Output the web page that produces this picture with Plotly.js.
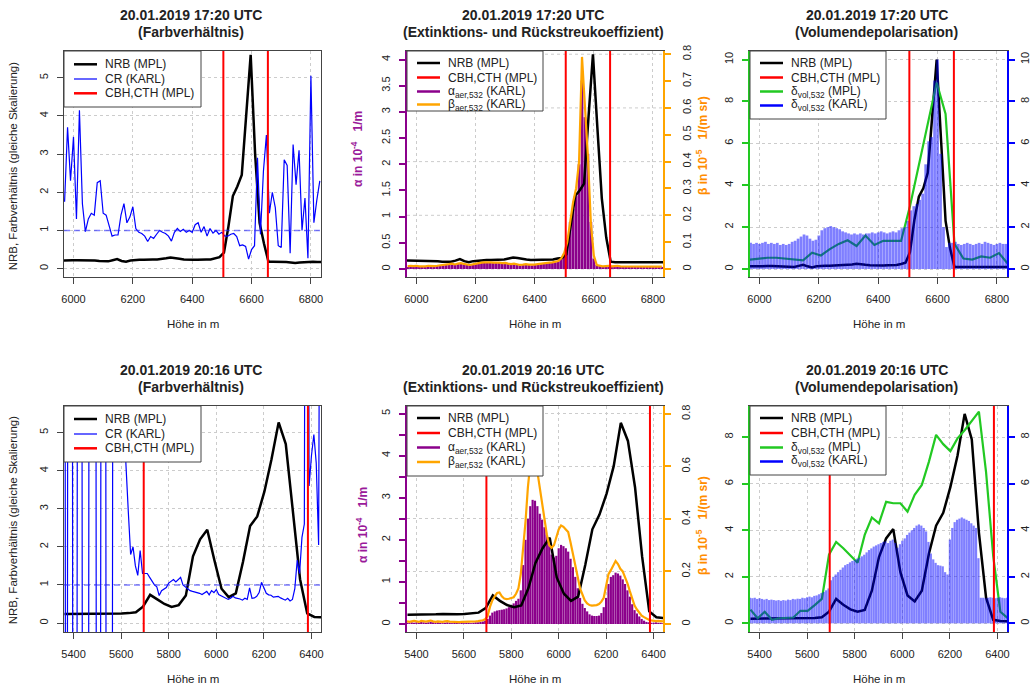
<!DOCTYPE html>
<html>
<head>
<meta charset="utf-8">
<script src="https://cdn.plot.ly/plotly-3.0.1.min.js"></script>
<style>html,body{margin:0;padding:0;background:#fff;}</style>
</head>
<body>
<div id="chart" style="width:1031px;height:690px;"></div>
<script>
// ================= DATA =================
// Height grids (m)
const karlTopH = [5970,5980,5990,6000,6010,6020,6030,6040,6050,6060,6070,6080,6090,6100,6110,6120,6130,6140,6150,6160,6170,6180,6190,6200,6210,6220,6230,6240,6250,6260,6270,6280,6290,6300,6310,6320,6330,6340,6350,6360,6370,6380,6390,6400,6410,6420,6430,6440,6450,6460,6470,6480,6490,6500,6510,6520,6530,6540,6550,6560,6570,6580,6590,6600,6610,6620,6630,6640,6650,6660,6670,6680,6690,6700,6710,6720,6730,6740,6750,6760,6770,6780,6790,6800,6810,6820,6830];
const karlBotH = [5360,5370,5380,5390,5400,5410,5420,5430,5440,5450,5460,5470,5480,5490,5500,5510,5520,5530,5540,5550,5560,5570,5580,5590,5600,5610,5620,5630,5640,5650,5660,5670,5680,5690,5700,5710,5720,5730,5740,5750,5760,5770,5780,5790,5800,5810,5820,5830,5840,5850,5860,5870,5880,5890,5900,5910,5920,5930,5940,5950,5960,5970,5980,5990,6000,6010,6020,6030,6040,6050,6060,6070,6080,6090,6100,6110,6120,6130,6140,6150,6160,6170,6180,6190,6200,6210,6220,6230,6240,6250,6260,6270,6280,6290,6300,6310,6320,6330,6340,6350,6360,6370,6380,6390,6400,6410,6420,6430,6440];
const mplTopH = [5967,5982,5997,6012,6027,6042,6057,6072,6087,6102,6117,6132,6147,6162,6177,6192,6207,6222,6237,6252,6267,6282,6297,6312,6327,6342,6357,6372,6387,6402,6417,6432,6447,6462,6477,6492,6507,6522,6537,6552,6567,6582,6597,6612,6627,6642,6657,6672,6687,6702,6717,6732,6747,6762,6777,6792,6807,6822,6837];
const depolMplTopH = [5967,5997,6027,6057,6087,6117,6147,6177,6207,6237,6267,6297,6327,6357,6387,6417,6447,6477,6507,6537,6567,6597,6627,6657,6687,6717,6747,6777,6807,6837];
const mplBotH = [5362,5392,5422,5452,5482,5512,5542,5572,5602,5632,5662,5692,5722,5752,5782,5812,5842,5872,5902,5932,5962,5992,6022,6052,6082,6112,6142,6172,6202,6232,6262,6292,6322,6352,6382,6412,6442];

// Cloud base / top heights (MPL)
const cbhCthTop = [6505, 6655];
const cbhCthBot = [5695, 6385];
const crReference = 1;

// ---- 20.01.2019 17:20 UTC ----
const nrbTopFarb = [0.21,0.22,0.22,0.22,0.22,0.22,0.21,0.21,0.2,0.19,
 0.19,0.22,0.25,0.2,0.18,0.21,0.23,0.23,0.23,0.24,
 0.24,0.24,0.25,0.27,0.29,0.28,0.26,0.24,0.23,0.23,
 0.23,0.24,0.24,0.24,0.27,0.3,0.42,1.1,1.9,2.15,
 2.45,4.0,5.6,3.0,1.2,0.65,0.18,0.18,0.18,0.18,
 0.17,0.16,0.15,0.16,0.17,0.18,0.18,0.17,0.17];
const nrbTopExt = [0.16,0.16,0.16,0.16,0.16,0.16,0.15,0.15,0.14,0.14,
 0.14,0.16,0.19,0.15,0.13,0.15,0.16,0.17,0.17,0.17,
 0.17,0.17,0.18,0.2,0.22,0.21,0.19,0.18,0.17,0.17,
 0.17,0.17,0.18,0.18,0.2,0.21,0.28,0.85,1.4,1.5,
 1.63,2.9,4.1,2.7,1.35,0.6,0.14,0.13,0.13,0.13,
 0.13,0.12,0.12,0.12,0.13,0.13,0.13,0.13,0.13];
const nrbTopDep = [0.13,0.14,0.14,0.14,0.14,0.14,0.13,0.12,0.11,0.1,
 0.1,0.15,0.2,0.13,0.08,0.13,0.16,0.16,0.16,0.17,
 0.17,0.17,0.19,0.22,0.25,0.24,0.2,0.18,0.17,0.17,
 0.17,0.18,0.18,0.19,0.24,0.3,0.8,2.35,3.45,3.85,
 4.6,7.5,10.0,6.1,2.3,1.0,0.1,0.1,0.1,0.1,
 0.1,0.09,0.08,0.09,0.1,0.11,0.11,0.1,0.1];
const crTop = [1.75,3.7,2.3,3.45,1.3,4.15,1.7,0.97,1.3,1.45,
 1.4,2.25,2.3,1.45,1.4,1.1,0.85,0.88,0.88,1.4,
 1.7,1.2,1.35,1.62,1.05,0.95,0.92,0.85,0.71,0.84,
 0.79,0.9,1.0,0.95,0.92,0.85,0.72,0.95,1.05,0.97,
 1.03,0.95,1.0,0.95,1.15,1.2,0.95,1.1,0.85,1.05,
 0.93,1.0,0.9,0.95,0.85,0.85,0.9,0.92,0.84,0.6,
 0.62,0.58,0.25,0.5,0.6,2.9,0.9,2.55,3.5,1.45,
 2.0,1.6,0.6,0.55,2.85,2.7,0.4,3.25,2.2,3.1,
 1.0,1.85,0.27,5.05,1.2,1.8,2.3];
const alphaTop = [0.04,0.06,0.05,0.06,0.05,0.04,0.05,0.06,0.05,0.05,
 0.06,0.06,0.07,0.08,0.09,0.1,0.08,0.1,0.11,0.09,
 0.08,0.07,0.08,0.1,0.12,0.12,0.12,0.13,0.12,0.12,
 0.13,0.12,0.11,0.12,0.1,0.09,0.1,0.08,0.07,0.08,
 0.09,0.08,0.07,0.08,0.09,0.1,0.1,0.11,0.12,0.12,
 0.13,0.15,0.2,0.25,0.55,0.9,1.15,1.4,2.0,3.6,
 2.9,2.2,0.9,0.2,0.08,0.06,0.05,0.05,0.06,0.05,
 0.06,0.05,0.04,0.05,0.04,0.04,0.05,0.04,0.04,0.05,
 0.04,0.04,0.05,0.04,0.04,0.04,0.04];
const betaTop = [0.01,0.012,0.011,0.012,0.01,0.009,0.01,0.012,0.011,0.011,
 0.012,0.013,0.014,0.016,0.018,0.02,0.017,0.02,0.022,0.019,
 0.016,0.015,0.017,0.02,0.023,0.024,0.025,0.026,0.025,0.024,
 0.025,0.024,0.022,0.023,0.02,0.018,0.02,0.017,0.015,0.016,
 0.018,0.016,0.015,0.016,0.018,0.02,0.02,0.022,0.024,0.025,
 0.027,0.03,0.04,0.06,0.1,0.17,0.25,0.3,0.4,0.79,
 0.62,0.42,0.17,0.05,0.015,0.012,0.01,0.011,0.012,0.01,
 0.011,0.012,0.01,0.01,0.009,0.01,0.011,0.01,0.009,0.01,
 0.011,0.01,0.009,0.01,0.01,0.01,0.009];
const deltaKarlTop = [1.25,1.2,1.25,1.2,1.25,1.3,1.2,1.25,1.2,1.25,
 1.15,1.2,1.15,1.2,1.3,1.35,1.45,1.55,1.65,1.6,
 1.45,1.35,1.4,1.6,1.85,1.95,2.0,2.05,2.0,1.95,
 1.9,1.8,1.75,1.7,1.65,1.7,1.65,1.7,1.65,1.7,
 1.7,1.75,1.7,1.75,1.8,1.75,1.7,1.75,1.8,1.75,
 1.85,1.95,2.0,2.3,2.8,3.0,3.1,3.3,3.6,5.0,
 6.1,6.3,9.0,10.0,5.5,2.0,1.05,1.25,1.25,1.3,
 1.2,1.15,1.2,1.25,1.2,1.15,1.2,1.25,1.2,1.3,
 1.25,1.2,1.15,1.2,1.25,1.2,1.2];
const deltaMplTop = [0.45,0.5,0.54,0.54,0.5,0.45,0.41,0.78,0.65,0.95,
 1.2,1.37,1.1,1.6,1.15,1.35,1.35,1.34,3.0,5.0,
 6.9,8.9,7.4,1.2,0.5,0.45,0.6,0.54,0.76,0.25];

// ---- 20.01.2019 20:16 UTC ----
const nrbBotFarb = [0.24,0.24,0.24,0.24,0.25,0.25,0.25,0.24,0.25,0.26,
 0.28,0.43,0.74,0.62,0.5,0.42,0.47,0.72,1.75,2.2,
 2.45,1.65,0.9,0.68,0.78,1.6,2.55,2.8,3.45,4.3,
 5.27,4.7,2.95,1.15,0.25,0.16,0.15];
const nrbBotExt = [0.22,0.22,0.22,0.22,0.23,0.24,0.23,0.23,0.24,0.25,
 0.27,0.38,0.68,0.55,0.45,0.4,0.44,0.85,1.45,1.8,
 2.05,1.1,0.72,0.55,0.65,1.4,2.25,2.6,3.1,3.75,
 4.78,4.35,3.25,1.6,0.3,0.16,0.14];
const nrbBotDep = [0.2,0.2,0.2,0.2,0.22,0.22,0.21,0.21,0.22,0.23,
 0.26,0.5,1.05,0.8,0.6,0.5,0.58,1.4,2.85,3.65,
 4.05,2.2,1.2,0.94,1.4,3.0,4.2,4.75,5.85,7.2,
 9.0,7.9,3.9,1.1,0.15,0.1,0.09];
const crBot = [40,-30,35,45,-25,-30,30,40,-20,-35,
 -25,40,50,35,-30,-20,30,45,-25,-30,
 -20,35,20,15,12,8,4.2,2.95,1.8,2.0,
 1.5,1.25,1.9,1.3,1.3,1.3,1.2,1.1,1.0,0.95,
 0.72,0.85,0.9,0.93,1.05,1.1,1.14,1.08,1.15,1.2,
 1.0,0.95,0.88,0.85,0.83,0.82,0.8,0.78,0.75,0.8,
 0.83,0.74,0.85,0.8,0.88,0.75,0.72,0.7,0.67,0.62,
 0.65,0.7,0.66,0.65,0.63,0.6,0.65,0.62,0.92,0.65,
 0.66,0.7,0.8,1.07,0.9,0.78,0.74,0.73,0.68,0.7,
 0.7,0.66,0.64,0.6,0.65,0.58,0.62,0.9,1.65,1.3,
 2.25,2.6,30,3.6,4.4,4.95,4.2,2.05,20];
const alphaBot = [0.03,0.02,0.04,0.03,0.04,0.03,0.05,0.04,0.03,0.04,
 0.05,0.04,0.03,0.04,0.03,0.02,0.03,0.04,0.03,0.02,
 0.03,0.03,0.02,0.03,0.02,0.03,0.03,0.02,0.03,0.04,
 0.04,0.05,0.06,0.08,0.12,0.2,0.27,0.3,0.32,0.33,
 0.34,0.35,0.37,0.4,0.44,0.49,0.55,0.6,0.8,1.4,
 2.0,2.5,2.8,2.95,2.93,2.8,2.62,2.48,2.3,2.12,
 1.9,1.65,1.58,1.62,1.8,1.88,1.85,1.8,1.72,1.55,
 1.35,1.12,0.85,0.62,0.48,0.38,0.3,0.23,0.2,0.19,
 0.19,0.2,0.26,0.4,0.62,0.95,1.12,1.16,1.22,1.2,
 1.15,1.06,0.95,0.8,0.65,0.47,0.33,0.25,0.18,0.12,
 0.08,0.05,0.04,0.03,0.03,0.04,0.03,0.03,0.02];
const betaBot = [0.01,0.008,0.01,0.012,0.01,0.008,0.012,0.01,0.009,0.011,
 0.013,0.01,0.008,0.01,0.009,0.008,0.01,0.011,0.009,0.008,
 0.009,0.008,0.007,0.008,0.008,0.009,0.008,0.009,0.01,0.01,
 0.011,0.012,0.014,0.018,0.03,0.065,0.09,0.105,0.118,0.12,
 0.105,0.097,0.095,0.096,0.1,0.102,0.115,0.135,0.19,0.28,
 0.39,0.52,0.61,0.63,0.62,0.58,0.52,0.46,0.4,0.34,
 0.3,0.29,0.3,0.33,0.36,0.375,0.37,0.36,0.35,0.31,
 0.27,0.22,0.18,0.135,0.11,0.09,0.078,0.072,0.07,0.07,
 0.072,0.076,0.085,0.1,0.15,0.19,0.205,0.225,0.24,0.228,
 0.21,0.2,0.18,0.155,0.125,0.095,0.07,0.055,0.042,0.032,
 0.026,0.02,0.016,0.014,0.012,0.011,0.012,0.01,0.01];
const deltaKarlBot = [1.1,1.08,1.1,1.05,1.08,1.05,1.02,1.05,1.0,1.02,
 1.0,0.98,1.0,0.97,1.0,0.98,1.02,1.0,1.05,1.03,
 1.06,1.05,1.1,1.08,1.12,1.15,1.12,1.18,1.2,1.25,
 1.3,1.35,1.42,1.5,1.85,2.0,2.1,2.2,2.3,2.4,
 2.5,2.55,2.62,2.68,2.72,2.78,2.82,2.88,2.95,3.05,
 3.15,3.22,3.3,3.35,3.4,3.45,3.5,3.52,3.45,3.55,
 3.6,3.45,3.25,3.4,3.55,3.65,3.8,3.9,4.0,4.1,
 4.2,4.25,4.2,4.1,3.95,3.5,3.0,2.75,2.6,2.5,
 2.48,2.45,2.2,2.1,3.6,4.1,4.35,4.45,4.5,4.55,
 4.5,4.45,4.4,4.3,4.2,4.1,2.8,1.1,1.1,1.08,
 1.1,1.12,1.1,1.08,1.1,1.12,1.1,1.08,1.1];
const deltaMplBot = [0.59,0.22,0.5,0.15,0.22,0.25,0.25,0.54,0.54,0.78,
 1.05,2.95,3.5,3.23,2.9,2.6,3.8,4.55,4.3,5.22,
 5.16,5.16,4.8,5.52,5.95,6.95,8.1,7.7,7.4,7.95,
 8.3,8.7,9.1,6.5,2.9,0.5,0.23];

// Tick values / labels
const xTicksTop = [6000,6200,6400,6600,6800];
const xTicksBot = [5400,5600,5800,6000,6200,6400];
const yTicksFarb = [0,1,2,3,4,5];
const yLabelsFarb = ['0','1','2','3','4','5'];
const yTicksAlphaTop = [0,0.5,1,1.5,2,2.5,3,3.5,4];
const yLabelsAlphaTop = ['0','0.5','1','1.5','2','2.5','3','3.5','4'];
const yTicksBetaTop = [0,0.1,0.2,0.3,0.4,0.5,0.6,0.7,0.8];
const yLabelsBetaTop = ['0','0.1','0.2','0.3','0.4','0.5','0.6','0.7','0.8'];
const yGridBetaTop = [0,0.2,0.4,0.6,0.8];
const yTicksDepTop = [0,2,4,6,8,10];
const yLabelsDepTop = ['0','2','4','6','8','10'];
const yTicksAlphaBot = [0,1,2,3,4,5];
const yLabelsAlphaBot = ['0','1','2','3','4','5'];
const yMinorAlphaBot = [0.5,1.5,2.5,3.5,4.5];
const yTicksBetaBot = [0,0.2,0.4,0.6,0.8];
const yLabelsBetaBot = ['0','0.2','0.4','0.6','0.8'];
const yTicksDepBot = [0,2,4,6,8];
const yLabelsDepBot = ['0','2','4','6','8'];

// Text
const titleTimes = ['20.01.2019 17:20 UTC', '20.01.2019 20:16 UTC'];
const titleKinds = ['(Farbverhältnis)', '(Extinktions- und Rückstreukoeffizient)', '(Volumendepolarisation)'];
const xTitle = 'Höhe in m';
const yTitleFarb = 'NRB, Farbverhältnis (gleiche Skalierung)';
const yTitleAlpha = 'α in 10<sup>-4</sup>\u00a0\u00a0 1/m';
const yTitleBeta = 'β in 10<sup>-5</sup>\u00a0\u00a0 1/(m sr)';
const legendFarb = ['NRB (MPL)', 'CR (KARL)', 'CBH,CTH (MPL)'];
const legendExt = ['NRB (MPL)', 'CBH,CTH (MPL)', 'α<sub>aer,532</sub> (KARL)', 'β<sub>aer,532</sub> (KARL)'];
const legendDep = ['NRB (MPL)', 'CBH,CTH (MPL)', 'δ<sub>vol,532</sub> (MPL)', 'δ<sub>vol,532</sub> (KARL)'];

// sanity check
[[karlTopH,crTop],[karlTopH,alphaTop],[karlTopH,betaTop],[karlTopH,deltaKarlTop],
 [mplTopH,nrbTopFarb],[mplTopH,nrbTopExt],[mplTopH,nrbTopDep],[depolMplTopH,deltaMplTop],
 [karlBotH,crBot],[karlBotH,alphaBot],[karlBotH,betaBot],[karlBotH,deltaKarlBot],
 [mplBotH,nrbBotFarb],[mplBotH,nrbBotExt],[mplBotH,nrbBotDep],[mplBotH,deltaMplBot]].forEach((p,i)=>{
  if(p[0].length!==p[1].length) throw new Error('length mismatch #'+i+': '+p[0].length+' vs '+p[1].length);
});

// ================= STYLE / LAYOUT =================
const W = 1031, H = 690;
const FONT = 'Liberation Sans, Arial, Helvetica, sans-serif';
const fx = p => p / W, fy = p => 1 - p / H;
const C = {black:'#000000', red:'#ff0000', cr:'#0000ff', purple:'#8b008b', purpleText:'#9a1a9a',
  orange:'#ffa500', orangeText:'#ff8c00', green:'#22c922', blue:'#0000ff', blueBar:'rgba(0,0,255,0.5)',
  box:'#444444', grid:'#cccccc', text:'#222222'};

// plot areas in pixels
const G = [
  {l:64, r:321, t:51, b:277}, {l:407, r:663, t:51, b:277}, {l:750, r:1007, t:51, b:277},
  {l:64, r:321, t:406, b:632}, {l:407, r:663, t:406, b:632}, {l:750, r:1007, t:406, b:632}];
const xIds = ['x','x2','x3','x4','x5','x6'];
const yBase = ['y','y2','y4','y6','y7','y9'];

function xAx(g, range, tickvals, anchor) {
  return {domain:[fx(g.l), fx(g.r)], range, anchor, tickmode:'array', tickvals, ticktext:tickvals.map(String),
    ticks:'outside', ticklen:6, tickwidth:1, tickcolor:C.box, showline:true, linecolor:C.box, linewidth:1, mirror:true,
    showgrid:true, gridcolor:C.grid, griddash:'dot', gridwidth:1, zeroline:false,
    tickfont:{family:FONT, size:11, color:C.text}, ticklabelstandoff:6, automargin:false, fixedrange:true};
}
function yAx(g, range, tickvals, ticktext, color, opts) {
  const plain = color === C.box;
  return Object.assign({domain:[fy(g.b), fy(g.t)], range, tickmode:'array', tickvals, ticktext,
    ticks:'outside', ticklen:6, tickwidth: plain ? 1 : 2, tickcolor:color, showline:true, linecolor:color,
    linewidth: plain ? 1 : 2, showgrid:false, gridcolor:C.grid, griddash:'dot', gridwidth:1, zeroline:false,
    tickangle:-90, tickfont:{family:FONT, size:11, color:C.text}, ticklabelstandoff:5,
    automargin:false, fixedrange:true}, opts);
}

const layout = {
  width:W, height:H, margin:{l:0,r:0,t:0,b:0}, paper_bgcolor:'#ffffff', plot_bgcolor:'rgba(0,0,0,0)',
  showlegend:false, hovermode:false, bargap:0.08, font:{family:FONT, color:C.text},
  xaxis: xAx(G[0], [5968,6834], xTicksTop, 'y'),
  xaxis2: xAx(G[1], [5968,6834], xTicksTop, 'y2'),
  xaxis3: xAx(G[2], [5968,6834], xTicksTop, 'y4'),
  xaxis4: xAx(G[3], [5360,6440], xTicksBot, 'y6'),
  xaxis5: xAx(G[4], [5360,6440], xTicksBot, 'y7'),
  xaxis6: xAx(G[5], [5360,6440], xTicksBot, 'y9'),
  yaxis: yAx(G[0], [-0.22,5.70], yTicksFarb, yLabelsFarb, C.box, {anchor:'x', mirror:true, showgrid:true}),
  yaxis2: yAx(G[1], [-0.153,4.164], yTicksAlphaTop, yLabelsAlphaTop, C.purple, {anchor:'x2'}),
  yaxis3: yAx(G[1], [-0.0298,0.812], yTicksBetaTop, yLabelsBetaTop, C.orange, {anchor:'x2', overlaying:'y2', side:'right', ticklabelstandoff:7}),
  yaxis4: yAx(G[2], [-0.38,10.41], yTicksDepTop, yLabelsDepTop, C.green, {anchor:'x3', showgrid:true}),
  yaxis5: yAx(G[2], [-0.38,10.41], yTicksDepTop, yLabelsDepTop, C.blue, {anchor:'x3', overlaying:'y4', side:'right', ticklabelstandoff:1}),
  yaxis6: yAx(G[3], [-0.236,5.70], yTicksFarb, yLabelsFarb, C.box, {anchor:'x4', mirror:true, showgrid:true}),
  yaxis7: yAx(G[4], [-0.19,5.18], yTicksAlphaBot, yLabelsAlphaBot, C.purple, {anchor:'x5',
    minor:{tickmode:'array', tickvals:yMinorAlphaBot, ticks:'outside', ticklen:6, tickwidth:2, tickcolor:C.purple, showgrid:false}}),
  yaxis8: yAx(G[4], [-0.0305,0.83], yTicksBetaBot, yLabelsBetaBot, C.orange, {anchor:'x5', overlaying:'y7', side:'right', showgrid:true, ticklabelstandoff:6}),
  yaxis9: yAx(G[5], [-0.372,9.34], yTicksDepBot, yLabelsDepBot, C.green, {anchor:'x6', showgrid:true}),
  yaxis10: yAx(G[5], [-0.372,9.34], yTicksDepBot, yLabelsDepBot, C.blue, {anchor:'x6', overlaying:'y9', side:'right', ticklabelstandoff:1}),
  shapes: [], annotations: []
};

// ================= TRACES =================
const ln = (x, y, xa, ya, color, width, name) => ({type:'scatter', mode:'lines', x, y, xaxis:xa, yaxis:ya,
  line:{color, width}, name, showlegend:false});
const bar = (x, y, xa, ya, color, name) => ({type:'bar', x, y, xaxis:xa, yaxis:ya,
  marker:{color, line:{width:0}}, name, showlegend:false});

const traces = [
  // 17:20 Farbverhältnis
  ln(mplTopH, nrbTopFarb, 'x', 'y', C.black, 2.5, 'NRB (MPL)'),
  ln(karlTopH, crTop, 'x', 'y', C.cr, 1.2, 'CR (KARL)'),
  // 17:20 Extinktion / Rückstreuung
  bar(karlTopH, alphaTop, 'x2', 'y2', C.purple, 'alpha aer,532 (KARL)'),
  ln(mplTopH, nrbTopExt, 'x2', 'y2', C.black, 2.5, 'NRB (MPL)'),
  ln(karlTopH, betaTop, 'x2', 'y3', C.orange, 2.2, 'beta aer,532 (KARL)'),
  // 17:20 Depolarisation
  ln(mplTopH, nrbTopDep, 'x3', 'y4', C.black, 2.5, 'NRB (MPL)'),
  ln(depolMplTopH, deltaMplTop, 'x3', 'y4', C.green, 2.2, 'delta vol,532 (MPL)'),
  bar(karlTopH, deltaKarlTop, 'x3', 'y5', C.blueBar, 'delta vol,532 (KARL)'),
  // 20:16 Farbverhältnis
  ln(mplBotH, nrbBotFarb, 'x4', 'y6', C.black, 2.5, 'NRB (MPL)'),
  ln(karlBotH, crBot, 'x4', 'y6', C.cr, 1.2, 'CR (KARL)'),
  // 20:16 Extinktion / Rückstreuung
  bar(karlBotH, alphaBot, 'x5', 'y7', C.purple, 'alpha aer,532 (KARL)'),
  ln(mplBotH, nrbBotExt, 'x5', 'y7', C.black, 2.5, 'NRB (MPL)'),
  ln(karlBotH, betaBot, 'x5', 'y8', C.orange, 2.2, 'beta aer,532 (KARL)'),
  // 20:16 Depolarisation
  ln(mplBotH, nrbBotDep, 'x6', 'y9', C.black, 2.5, 'NRB (MPL)'),
  ln(mplBotH, deltaMplBot, 'x6', 'y9', C.green, 2.2, 'delta vol,532 (MPL)'),
  bar(karlBotH, deltaKarlBot, 'x6', 'y10', C.blueBar, 'delta vol,532 (KARL)')
];

// ================= SHAPES =================
const S = layout.shapes, A = layout.annotations;
// grid of the right-hand beta axis (17:20)
yGridBetaTop.forEach(v => S.push({type:'line', xref:'x2 domain', yref:'y3', x0:0, x1:1, y0:v, y1:v,
  line:{color:C.grid, width:1, dash:'dot'}, layer:'below'}));
// CR = 1 reference
[['x','y'],['x4','y6']].forEach(([xa, ya]) => S.push({type:'line', xref:xa+' domain', yref:ya, x0:0, x1:1,
  y0:crReference, y1:crReference, line:{color:'rgba(40,40,255,0.6)', width:1.5, dash:'6px,4px'}, layer:'above'}));
// CBH / CTH
[0,1,2].forEach(k => cbhCthTop.forEach(v => S.push({type:'line', xref:xIds[k], yref:yBase[k]+' domain',
  x0:v, x1:v, y0:0, y1:1, line:{color:C.red, width:2}, layer:'above'})));
[3,4,5].forEach(k => cbhCthBot.forEach(v => S.push({type:'line', xref:xIds[k], yref:yBase[k]+' domain',
  x0:v, x1:v, y0:0, y1:1, line:{color:C.red, width:2}, layer:'above'})));

// ================= LEGENDS (R style boxes) =================
const legends = [
  {box:[64,51,201,107], rows:[64.3,79,93.3], labels:legendFarb, colors:[C.black,C.cr,C.red], widths:[2.5,1.2,2.5]},
  {box:[407,51,543,111], rows:[63,77.5,91.5,104.5], labels:legendExt, colors:[C.black,C.red,C.purple,C.orange], widths:[2.5,2.5,2.5,2.5]},
  {box:[750,51,886,119], rows:[63,77.5,91.5,105.5], labels:legendDep, colors:[C.black,C.red,C.green,C.blue], widths:[2.5,2.5,2.5,2.5]},
  {box:[64,406,201,462], rows:[419,434,448.3], labels:legendFarb, colors:[C.black,C.cr,C.red], widths:[2.5,1.2,2.5]},
  {box:[407,406,543,476], rows:[418,433,447.5,462], labels:legendExt, colors:[C.black,C.red,C.purple,C.orange], widths:[2.5,2.5,2.5,2.5]},
  {box:[750,406,886,475], rows:[418,433,447.5,461.5], labels:legendDep, colors:[C.black,C.red,C.green,C.blue], widths:[2.5,2.5,2.5,2.5]}
];
legends.forEach(L => {
  const [x0, y0, x1, y1] = L.box;
  S.push({type:'rect', xref:'paper', yref:'paper', x0:fx(x0), x1:fx(x1), y0:fy(y1), y1:fy(y0),
    line:{color:C.box, width:1}, fillcolor:'#ffffff', layer:'above'});
  L.rows.forEach((ry, i) => {
    S.push({type:'line', xref:'paper', yref:'paper', x0:fx(x0+10), x1:fx(x0+33), y0:fy(ry), y1:fy(ry),
      line:{color:L.colors[i], width:L.widths[i]}, layer:'above'});
    A.push({xref:'paper', yref:'paper', x:fx(x0+39), y:fy(ry), xanchor:'left', yanchor:'middle', showarrow:false,
      text:L.labels[i], font:{family:FONT, size:12, color:C.text}});
  });
});

// ================= TITLES =================
G.forEach((g, k) => {
  const cx = (g.l + g.r) / 2 - 2;
  A.push({xref:'paper', yref:'paper', x:fx(cx), y:fy(g.t - 36), xanchor:'center', yanchor:'middle', showarrow:false,
    text:'<b>' + titleTimes[k < 3 ? 0 : 1] + '</b>', font:{family:FONT, size:14, color:C.text}});
  A.push({xref:'paper', yref:'paper', x:fx(cx), y:fy(g.t - 18.7), xanchor:'center', yanchor:'middle', showarrow:false,
    text:'<b>' + titleKinds[k % 3] + '</b>', font:{family:FONT, size:14, color:C.text}});
  A.push({xref:'paper', yref:'paper', x:fx((g.l + g.r) / 2), y:fy(g.b + 47), xanchor:'center', yanchor:'middle', showarrow:false,
    text:xTitle, font:{family:FONT, size:11.5, color:C.text}});
});
// y-axis titles
[[13.3,166],[13.3,520]].forEach(([x,y]) => A.push({xref:'paper', yref:'paper', x:fx(x), y:fy(y), textangle:-90,
  xanchor:'center', yanchor:'middle', showarrow:false, text:yTitleFarb, font:{family:FONT, size:11.5, color:C.text}}));
[[357,149],[362,525]].forEach(([x,y]) => A.push({xref:'paper', yref:'paper', x:fx(x), y:fy(y), textangle:-90,
  xanchor:'center', yanchor:'middle', showarrow:false, text:'<b>' + yTitleAlpha + '</b>', font:{family:FONT, size:12, color:C.purpleText}}));
[[702,146],[702,526]].forEach(([x,y]) => A.push({xref:'paper', yref:'paper', x:fx(x), y:fy(y), textangle:-90,
  xanchor:'center', yanchor:'middle', showarrow:false, text:'<b>' + yTitleBeta + '</b>', font:{family:FONT, size:12, color:C.orangeText}}));

Plotly.newPlot('chart', traces, layout, {staticPlot:true, displayModeBar:false});
</script>
</body>
</html>
